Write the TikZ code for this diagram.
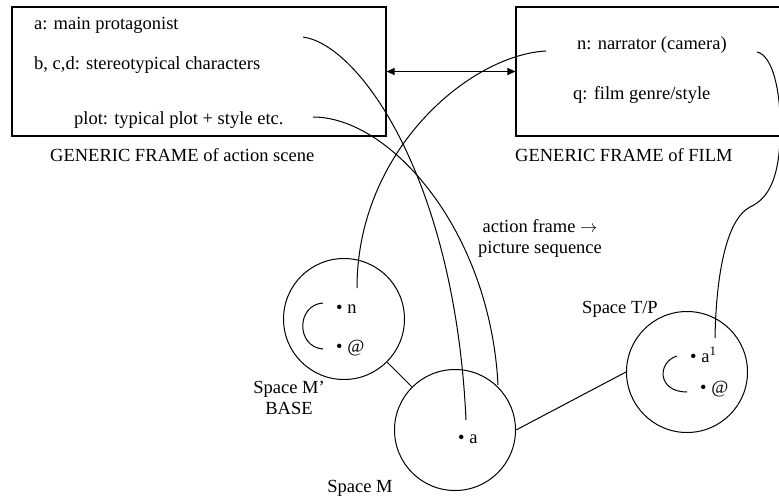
\documentclass[tikz,border=0pt]{standalone}
\usepackage{fontspec}
\setmainfont{Liberation Serif}
\usetikzlibrary{arrows.meta}
\begin{document}
\begin{tikzpicture}[x=1pt,y=-1pt,
  every node/.style={font=\fontsize{18.5}{21}\selectfont, inner sep=0pt},
  framebox/.style={draw, line width=1.1pt, rectangle},
  space/.style={draw, line width=1pt, circle, minimum size=121pt},
  link/.style={line width=1pt},
  item/.style={anchor=west},
  pt/.style={anchor=base west},
  both tips/.style={{Triangle[length=8pt,width=7pt]}-{Triangle[length=8pt,width=7pt]}}
]
\useasboundingbox (0,0) rectangle (779,499);
\clip (0,0) rectangle (779,499);

% generic frames
\node[framebox, minimum width=374pt, minimum height=129pt] (scene) at (199,71.5) {};
\node[framebox, minimum width=274pt, minimum height=129pt] (film) at (653,71.5) {};
\draw[link, both tips] (scene.east) -- (film.west);

\node[item] (ta) at (34,25) {a: main protagonist};
\node[item] (tb) at (34,65) {b, c,d: stereotypical characters};
\node[item] (tplot) at (74,120) {plot: typical plot + style etc.};
\node[item] (tn) at (577,45) {n: narrator (camera)};
\node[item] (tq) at (573,95) {q: film genre/style};
\node[item] (lscene) at (50,155) {GENERIC FRAME of action scene};
\node[item] (lfilm) at (515,155) {GENERIC FRAME of FILM};
\node[align=center] (lpic) at (540,238) {action frame $\rightarrow$\\picture sequence};

% mental spaces
\node[space] (Mp) at (344,319) {};
\node[space] (M) at (455,430) {};
\node[space] (TP) at (687,372) {};
\node[align=center] (lMp) at (289,398) {Space M’\\BASE};
\node (lM) at (360,488) {Space M};
\node (lTP) at (620,309) {Space T/P};

\node[pt] (mn) at (336,313) {• n};
\node[pt] (mat) at (336,352) {• @};
\node[pt] (ma) at (458,443) {• a};
\node[pt] (ta1) at (690,362) {• a\textsuperscript{1}};
\node[pt] (tat) at (700,393) {• @};

\draw[link] (Mp) -- (M);
\draw[link] (M.east) -- (TP.west);

% identity brackets inside the spaces
\draw[link] (323,303) .. controls (296,305) and (296,347) .. (323,349);
\draw[link] (677,356) .. controls (657,362) and (657,392) .. (687,392);

% mapping curves
\coordinate (c1s) at (303,37);   \coordinate (c1e) at (466,420);
\coordinate (c2s) at (313,117);  \coordinate (c2e) at (498,385);
\coordinate (c3s) at (546,51);   \coordinate (c3e) at (357,288);
\coordinate (c4s) at (757,52);   \coordinate (c4e) at (715,338);
\draw[link] (c1s) .. controls (360,45) and (455,180) .. (c1e);
\draw[link] (c2s) .. controls (390,117) and (490,230) .. (c2e);
\draw[link] (c3s) .. controls (470,55) and (357,150) .. (c3e);
\draw[link] (c4s) .. controls (772,55) and (782,90) .. (780,140)
  .. controls (778,185) and (765,200) .. (750,207)
  .. controls (725,220) and (716,280) .. (c4e);
\end{tikzpicture}
\end{document}
